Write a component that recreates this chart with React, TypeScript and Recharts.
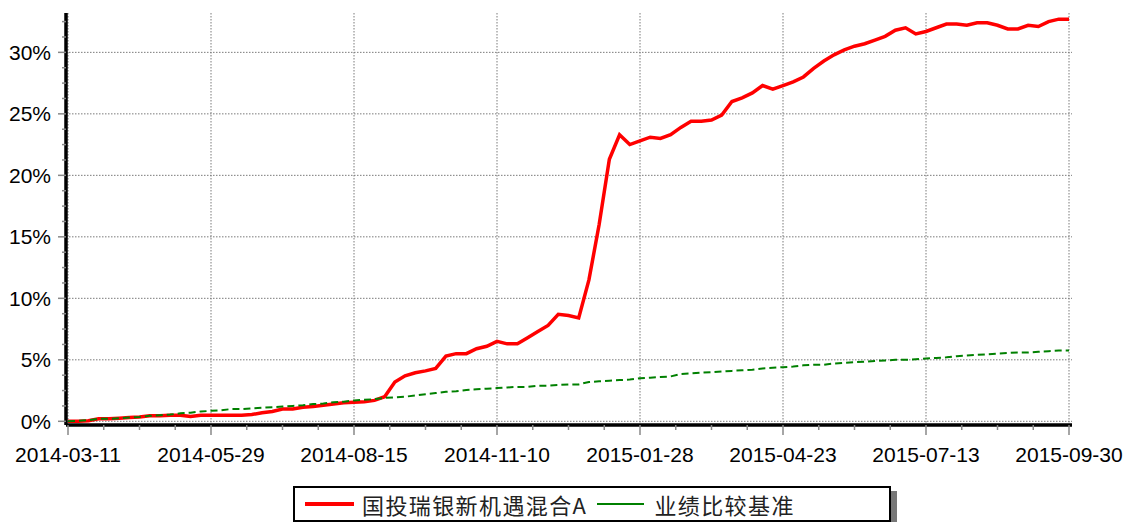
import { LineChart, Line, XAxis, YAxis, CartesianGrid } from 'recharts';

// x axis labels, one every 14 steps
const dateLabels = [
  '2014-03-11',
  '2014-05-29',
  '2014-08-15',
  '2014-11-10',
  '2015-01-28',
  '2015-04-23',
  '2015-07-13',
  '2015-09-30',
];
const labelEvery = 14;

// cumulative return, % (sampled every 4 trading days)
const fundReturn = [
  0.0, 0.0, 0.05, 0.2, 0.2, 0.25, 0.3, 0.35, 0.45, 0.45,
  0.5, 0.5, 0.4, 0.5, 0.5, 0.5, 0.5, 0.5, 0.55, 0.7,
  0.8, 1.0, 1.0, 1.15, 1.2, 1.3, 1.4, 1.5, 1.55, 1.6,
  1.7, 2.0, 3.2, 3.7, 3.95, 4.1, 4.3, 5.3, 5.5, 5.5,
  5.9, 6.1, 6.5, 6.3, 6.3, 6.8, 7.3, 7.8, 8.7, 8.6,
  8.4, 11.5, 16.0, 21.3, 23.3, 22.5, 22.8, 23.1, 23.0, 23.3,
  23.9, 24.4, 24.4, 24.5, 24.9, 26.0, 26.3, 26.7, 27.3, 27.0,
  27.3, 27.6, 28.0, 28.7, 29.3, 29.8, 30.2, 30.5, 30.7, 31.0,
  31.3, 31.8, 32.0, 31.5, 31.7, 32.0, 32.3, 32.3, 32.2, 32.4,
  32.4, 32.2, 31.9, 31.9, 32.2, 32.1, 32.5, 32.7, 32.7,
];

const benchmarkReturn = [
  0.0, 0.05, 0.1, 0.2, 0.2, 0.25, 0.3, 0.35, 0.45, 0.5,
  0.55, 0.65, 0.7, 0.8, 0.85, 0.9, 1.0, 1.0, 1.05, 1.1,
  1.15, 1.2, 1.25, 1.3, 1.4, 1.45, 1.55, 1.6, 1.7, 1.75,
  1.8, 1.9, 1.95, 2.0, 2.1, 2.2, 2.3, 2.4, 2.45, 2.55,
  2.6, 2.65, 2.7, 2.75, 2.8, 2.8, 2.9, 2.9, 2.95, 3.0,
  3.0, 3.2, 3.25, 3.3, 3.35, 3.4, 3.5, 3.55, 3.6, 3.65,
  3.85, 3.9, 3.95, 4.0, 4.05, 4.1, 4.15, 4.2, 4.3, 4.35,
  4.4, 4.45, 4.55, 4.6, 4.6, 4.7, 4.75, 4.8, 4.85, 4.9,
  4.95, 5.0, 5.0, 5.05, 5.1, 5.15, 5.2, 5.3, 5.35, 5.4,
  5.45, 5.5, 5.55, 5.6, 5.6, 5.65, 5.7, 5.75, 5.75,
];

const yTicks = Array.from({ length: 27 }, (_, i) => i * 1.25);
const yGrid = [0, 5, 10, 15, 20, 25, 30];
const lastStep = fundReturn.length - 1;
const xTicks = Array.from({ length: lastStep / 3.5 + 1 }, (_, i) => i * 3.5);
const xGrid = dateLabels.map((_, i) => i * labelEvery);

const data = fundReturn.map((v, i) => ({
  k: i,
  fund: v,
  bench: benchmarkReturn[i],
}));

const FONT = '"Liberation Sans", Arial, sans-serif';
const CJK = '"Noto Sans CJK SC", "Liberation Sans", sans-serif';

function XTick(props: any) {
  const { x, y, payload } = props;
  const v = payload.value;
  const major = Math.abs(v % labelEvery) < 1e-6;
  return (
    <g>
      <line x1={x} x2={x} y1={y} y2={y + (major ? 10 : 5)} stroke='#888' strokeWidth={1.5} />
      {major && (
        <text x={x} y={y + 37} textAnchor='middle' fontSize={21} fontFamily={FONT} fill='#000'>
          {dateLabels[Math.round(v / labelEvery)]}
        </text>
      )}
    </g>
  );
}

function YTick(props: any) {
  const { x, y, payload } = props;
  const v = payload.value;
  const major = Math.abs(v % 5) < 1e-6;
  return (
    <g>
      <line x1={x - (major ? 8 : 4)} x2={x} y1={y} y2={y} stroke='#888' strokeWidth={1.5} />
      {major && (
        <text x={x - 15} y={y} dy='0.36em' textAnchor='end' fontSize={21} fontFamily={FONT} fill='#000'>
          {`${v}%`}
        </text>
      )}
    </g>
  );
}

export default function App() {
  return (
    <div style={{ position: 'absolute', left: 0, top: 0, width: 1125, height: 522, background: '#fff' }}>
      <LineChart
        width={1125}
        height={470}
        data={data}
        margin={{ top: 13, right: 53, bottom: 0, left: 0 }}
      >
        <CartesianGrid
          stroke='#7a7a7a'
          strokeDasharray='1.5 1.5'
          horizontalValues={yGrid}
          verticalValues={xGrid}
        />
        <XAxis
          dataKey='k'
          type='number'
          domain={[0, lastStep]}
          ticks={xTicks}
          interval={0}
          padding={{ left: 2, right: 3 }}
          height={45}
          tickSize={0}
          tickMargin={0}
          tickLine={false}
          axisLine={{ stroke: '#000', strokeWidth: 3.5 }}
          tick={<XTick />}
        />
        <YAxis
          type='number'
          domain={[-0.3, 33.2]}
          allowDataOverflow
          ticks={yTicks}
          interval={0}
          width={66}
          tickSize={0}
          tickMargin={0}
          tickLine={false}
          axisLine={{ stroke: '#000', strokeWidth: 3.5 }}
          tick={<YTick />}
        />
        <Line
          type='linear'
          dataKey='fund'
          stroke='#ff0000'
          strokeWidth={3.5}
          dot={false}
          isAnimationActive={false}
        />
        <Line
          type='linear'
          dataKey='bench'
          stroke='#008000'
          strokeWidth={2}
          strokeDasharray='7 4'
          dot={false}
          isAnimationActive={false}
        />
      </LineChart>
      <div
        style={{
          position: 'absolute',
          left: 293,
          top: 486,
          width: 594,
          height: 32,
          border: '2px solid #000',
          boxShadow: '6px 5px 0 #777',
          background: '#fff',
          display: 'flex',
          alignItems: 'center',
          fontFamily: CJK,
          fontSize: 22,
          color: '#222',
          whiteSpace: 'nowrap',
        }}
      >
        <span style={{ display: 'inline-block', marginLeft: 10, width: 49, height: 4, background: '#ff0000' }} />
        <span style={{ marginLeft: 8, letterSpacing: 1.4 }}>国投瑞银新机遇混合A</span>
        <span style={{ display: 'inline-block', marginLeft: 10, width: 47, height: 2, background: '#008000' }} />
        <span style={{ marginLeft: 10, letterSpacing: 1.4 }}>业绩比较基准</span>
      </div>
    </div>
  );
}
